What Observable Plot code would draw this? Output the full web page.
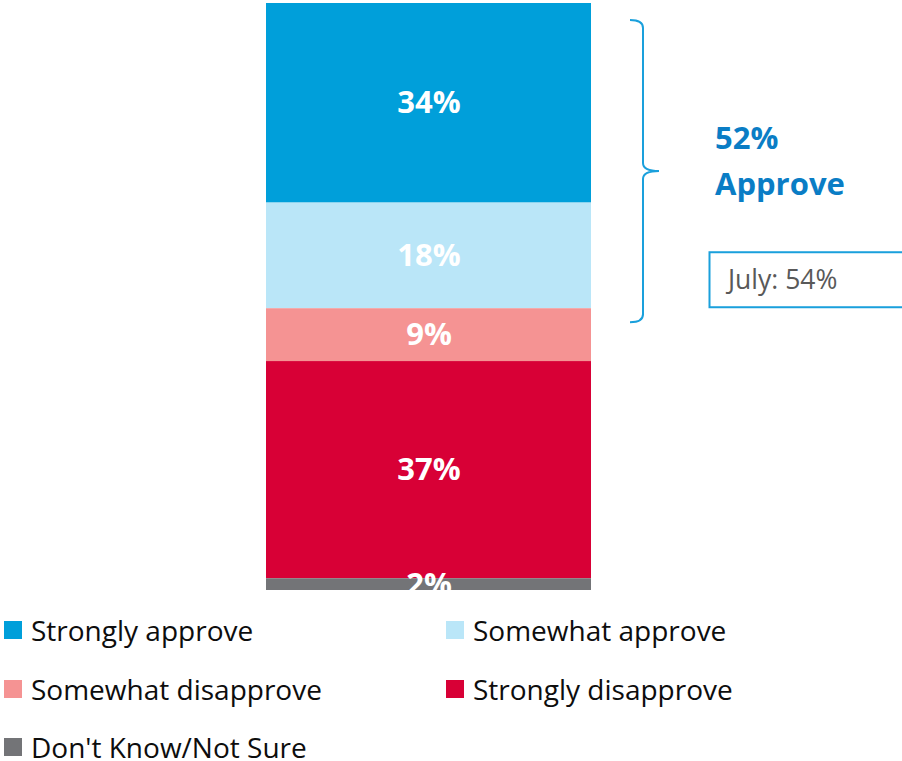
<!DOCTYPE html>
<html>
<head>
<meta charset="utf-8">
<script src="https://cdn.jsdelivr.net/npm/d3@7"></script>
<script src="https://cdn.jsdelivr.net/npm/@observablehq/plot@0.6"></script>
<style>
  body { margin: 0; background: #fff; font-family: "Open Sans", sans-serif; }
  #chart svg { display: block; overflow: hidden; }
  .legend { position: relative; width: 902px; height: 171px; overflow: hidden; }
  .item { position: absolute; display: flex; align-items: center; font-size: 28px; line-height: 28px; color: #0d0d0d; white-space: nowrap; height: 28px; }
  .sw { width: 18px; height: 18px; margin-right: 9px; flex: none; }
</style>
</head>
<body>
<div id="chart"></div>
<div class="legend" id="legend"></div>
<script>
// ---- data ----
const categories = ["Strongly approve", "Somewhat approve", "Somewhat disapprove", "Strongly disapprove", "Don't Know/Not Sure"];
const values = [34, 18, 9, 37, 2];
const labels = ["34%", "18%", "9%", "37%", "2%"];
const colors = ["#009FDA", "#BAE6F8", "#F59393", "#D80036", "#737477"];
const barName = ["Total"];
const approveLabel = ["52%", "Approve"];
const priorLabel = "July: 54%";

const data = categories.map((c, i) => ({q: barName[0], cat: c, value: values[i], label: labels[i]}));
const approve = values[0] + values[1];

function annotation(index, scales, vals, dims) {
  const y = scales.y;
  const xr = dims.width - dims.marginRight;
  const top = y(0) + 17, bottom = y(approve) + 14, mid = (top + bottom) / 2;
  const sx = xr + 39, vx = xr + 52, tx = xr + 68;
  const g = d3.create("svg:g").attr("text-anchor", "start");
  const p = d3.path();
  p.moveTo(sx, top);
  p.quadraticCurveTo(vx, top, vx, top + 8);
  p.lineTo(vx, mid - 8);
  p.quadraticCurveTo(vx, mid, tx, mid);
  p.quadraticCurveTo(vx, mid, vx, mid + 8);
  p.lineTo(vx, bottom - 8);
  p.quadraticCurveTo(vx, bottom, sx, bottom);
  g.append("path").attr("d", p.toString()).attr("fill", "none").attr("stroke", "#1AA0DC").attr("stroke-width", 2);
  const t = g.append("text").attr("fill", "#0A7DC5").attr("font-size", 31).attr("font-weight", "bold")
    .attr("font-family", "Open Sans").attr("text-anchor", "start");
  t.append("tspan").attr("x", xr + 124).attr("y", mid - 22).text(approveLabel[0]);
  t.append("tspan").attr("x", xr + 124).attr("y", mid + 24).text(approveLabel[1]);
  const bb = y(approve) - 1;
  g.append("rect").attr("x", xr + 118.5).attr("y", bb - 55).attr("width", 200).attr("height", 55)
    .attr("fill", "white").attr("stroke", "#1AA0DC").attr("stroke-width", 2);
  g.append("text").attr("x", xr + 137).attr("y", bb - 18).attr("fill", "#595959").attr("font-size", 26.5)
    .attr("font-family", "Open Sans").attr("text-anchor", "start").text(priorLabel);
  return g.node();
}

const chart = Plot.plot({
  width: 902,
  height: 590,
  marginTop: 3,
  marginBottom: 0,
  marginLeft: 266,
  marginRight: 311,
  x: {type: "band", domain: barName, padding: 0, axis: null},
  y: {domain: [0, 100], reverse: true, axis: null},
  color: {domain: categories, range: colors},
  style: {fontFamily: "Open Sans", overflow: "hidden", background: "white"},
  marks: [
    Plot.barY(data, Plot.stackY({x: "q", y: "value", fill: "cat", order: null})),
    Plot.text(data, Plot.stackY({x: "q", y: "value", text: "label", order: null, fill: "white", fontSize: 31, fontWeight: "bold"})),
    annotation
  ]
});
document.getElementById("chart").appendChild(chart);

// ---- legend ----
const legend = document.getElementById("legend");
const pos = [[4, 26], [446, 26], [4, 85], [446, 85], [4, 143]];
categories.forEach((c, i) => {
  const it = document.createElement("div");
  it.className = "item";
  it.style.left = pos[i][0] + "px";
  it.style.top = pos[i][1] + "px";
  const sw = document.createElement("span");
  sw.className = "sw";
  sw.style.background = colors[i];
  const tx = document.createElement("span");
  tx.textContent = c;
  it.appendChild(sw); it.appendChild(tx);
  legend.appendChild(it);
});
</script>
</body>
</html>
